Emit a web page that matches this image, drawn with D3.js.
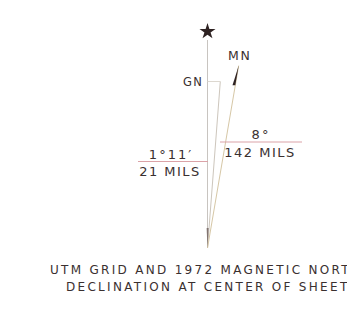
<!DOCTYPE html>
<html>
<head>
<meta charset="utf-8">
<script src="https://cdn.jsdelivr.net/npm/d3@7"></script>
<style>
  body { margin: 0; background: #fff; overflow: hidden; }
  svg { display: block; }
  text { font-family: "DejaVu Sans", sans-serif; fill: #3a3030; }
</style>
</head>
<body>
<div id="chart"></div>
<script>
// declination data
const northNames = ["TN", "GN", "MN"];
const declinationMils = [0, 21, 142];
const degreeLabels = ["", "1°11′", "8°"];
const milLabels = ["", "21 MILS", "142 MILS"];
const captionLines = [
  "UTM GRID AND 1972 MAGNETIC NORTH",
  "DECLINATION AT CENTER OF SHEET",
];

const width = 347;
const height = 318;
const vertex = [207.5, 248];

// drawn angle is exaggerated for small values, like on the map sheet
const angle = d3.scaleLinear().domain([0, 21, 142]).range([0, 4.4, 9.7]);
const lineLength = d3.scaleOrdinal().domain(northNames).range([208, 167, 185]);

const svg = d3.select("#chart").append("svg")
  .attr("width", width)
  .attr("height", height);

function tip(i) {
  const a = angle(declinationMils[i]) * Math.PI / 180;
  const r = lineLength(northNames[i]);
  return [vertex[0] + r * Math.sin(a), vertex[1] - r * Math.cos(a)];
}

const lineColors = ["#c8c4c0", "#cdc6bc", "#d6c7a6"];

svg.append("g").selectAll("line")
  .data(northNames)
  .join("line")
  .attr("x1", vertex[0])
  .attr("y1", vertex[1])
  .attr("x2", (d, i) => tip(i)[0])
  .attr("y2", (d, i) => tip(i)[1])
  .attr("stroke", (d, i) => lineColors[i])
  .attr("stroke-width", 1);

// darker point where the lines meet
svg.append("path")
  .attr("d", `M${vertex[0] - 0.9},${vertex[1] - 20} L${vertex[0] + 1.2},${vertex[1] - 20} L${vertex[0]},${vertex[1]} Z`)
  .attr("fill", "#6b5a55")
  .attr("opacity", 0.75);

// star for true north
const tn = tip(0);
svg.append("path")
  .attr("d", d3.symbol(d3.symbolStar, 80)())
  .attr("transform", `translate(${tn[0]},${tn[1] - 8.5})`)
  .attr("fill", "#2e2222");

// GN tick and label
const gn = tip(1);
svg.append("line")
  .attr("x1", vertex[0]).attr("x2", gn[0])
  .attr("y1", gn[1]).attr("y2", gn[1])
  .attr("stroke", "#ddd8d0").attr("stroke-width", 1);
svg.append("text")
  .attr("x", 203).attr("y", gn[1] + 5)
  .attr("text-anchor", "end")
  .attr("font-size", 11.5)
  .attr("letter-spacing", 1.2)
  .text(northNames[1]);

// MN half arrow head and label
const mn = tip(2);
const mnA = angle(declinationMils[2]) * Math.PI / 180;
svg.append("path")
  .attr("d", () => {
    const bx = mn[0] - 20 * Math.sin(mnA), by = mn[1] + 20 * Math.cos(mnA);
    return `M${mn[0]},${mn[1]} L${bx - 2.8},${by} L${bx},${by} Z`;
  })
  .attr("fill", "#2e2222");
svg.append("text")
  .attr("x", mn[0] + 1).attr("y", mn[1] - 6)
  .attr("text-anchor", "middle")
  .attr("font-size", 12.5)
  .attr("letter-spacing", 1.5)
  .text(northNames[2]);

// declination value labels
const labelBoxes = [null, { x0: 138, x1: 208, y: 161.5, cx: 171 }, { x0: 220, x1: 302, y: 142, cx: 261 }];
const g = svg.append("g");
[1, 2].forEach(i => {
  const b = labelBoxes[i];
  g.append("line")
    .attr("x1", b.x0).attr("x2", b.x1)
    .attr("y1", b.y).attr("y2", b.y)
    .attr("stroke", "#dba3a8").attr("stroke-width", 1);
  g.append("text")
    .attr("x", b.cx).attr("y", b.y - 3)
    .attr("text-anchor", "middle")
    .attr("font-size", 13)
    .attr("letter-spacing", 2)
    .text(degreeLabels[i]);
  g.append("text")
    .attr("x", b.cx - 1).attr("y", b.y + 14.5)
    .attr("text-anchor", "middle")
    .attr("font-size", 13)
    .attr("letter-spacing", 1.5)
    .text(milLabels[i]);
});

// caption (runs past the right edge, as in the scan)
svg.append("g").selectAll("text")
  .data(captionLines)
  .join("text")
  .attr("x", (d, i) => [50, 66][i])
  .attr("y", (d, i) => 274 + i * 17)
  .attr("font-size", 12)
  .attr("letter-spacing", 2.3)
  .text(d => d);
</script>
</body>
</html>
